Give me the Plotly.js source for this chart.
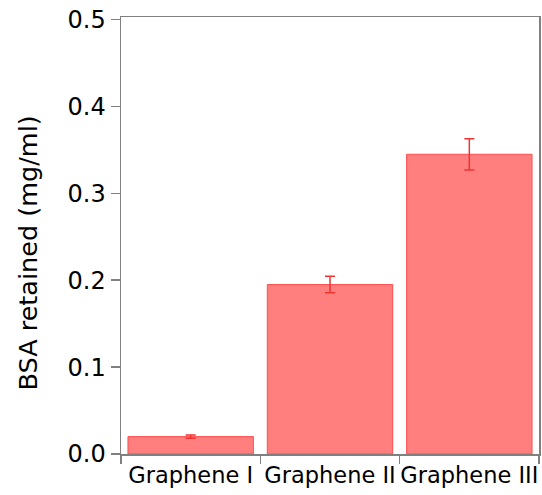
<!DOCTYPE html>
<html>
<head>
<meta charset="utf-8">
<script src="https://cdn.plot.ly/plotly-3.0.1.min.js"></script>
<style>html,body{margin:0;padding:0;background:#fff;}#chart{width:542px;height:495px;}</style>
</head>
<body>
<div id="chart"></div>
<script>
const categories = ["Graphene I", "Graphene II", "Graphene III"];
const bsaRetained = [0.020, 0.195, 0.345];
const errors = [0.002, 0.0095, 0.018];
const yTickVals = [0.0, 0.1, 0.2, 0.3, 0.4, 0.5];
const yTickText = ["0.0", "0.1", "0.2", "0.3", "0.4", "0.5"];
const yTitle = "BSA retained (mg/ml)";

const FONT = "DejaVu Sans, sans-serif";
const data = [{
  type: "bar",
  x: categories,
  y: bsaRetained,
  marker: {color: "#ff7f7f", line: {color: "#ff4d4d", width: 1}},
  error_y: {type: "data", array: errors, visible: true, color: "#ee3333", thickness: 1.5, width: 5}
}];
const layout = {
  width: 542, height: 495,
  margin: {l: 121, r: 3, t: 17, b: 41},
  paper_bgcolor: "#fff", plot_bgcolor: "#fff",
  showlegend: false,
  bargap: 0.1,
  font: {family: FONT, color: "#000"},
  xaxis: {
    type: "category", range: [-0.5, 2.5],
    showline: true, linecolor: "#808080", linewidth: 1.5, mirror: true,
    ticks: "outside", tickson: "boundaries", ticklen: 8, tickcolor: "#808080", tickwidth: 1.5,
    tickangle: 0,
    tickfont: {family: FONT, size: 22.5, color: "#000"},
    showgrid: false, zeroline: false
  },
  yaxis: {
    range: [0, 0.503],
    tickvals: yTickVals, ticktext: yTickText,
    showline: true, linecolor: "#808080", linewidth: 1.5, mirror: true,
    ticks: "outside", ticklen: 9, tickcolor: "#808080", tickwidth: 1.5,
    tickfont: {family: FONT, size: 24, color: "#000"},
    showgrid: false, zeroline: false
  },
  annotations: [{
    text: yTitle, textangle: -90, showarrow: false,
    xref: "paper", yref: "paper",
    x: (27 - 121) / 418, y: (454 - 253.5) / 437,
    xanchor: "center", yanchor: "middle",
    font: {family: FONT, size: 25.5, color: "#000"}
  }]
};
Plotly.newPlot("chart", data, layout, {staticPlot: true});
</script>
</body>
</html>
